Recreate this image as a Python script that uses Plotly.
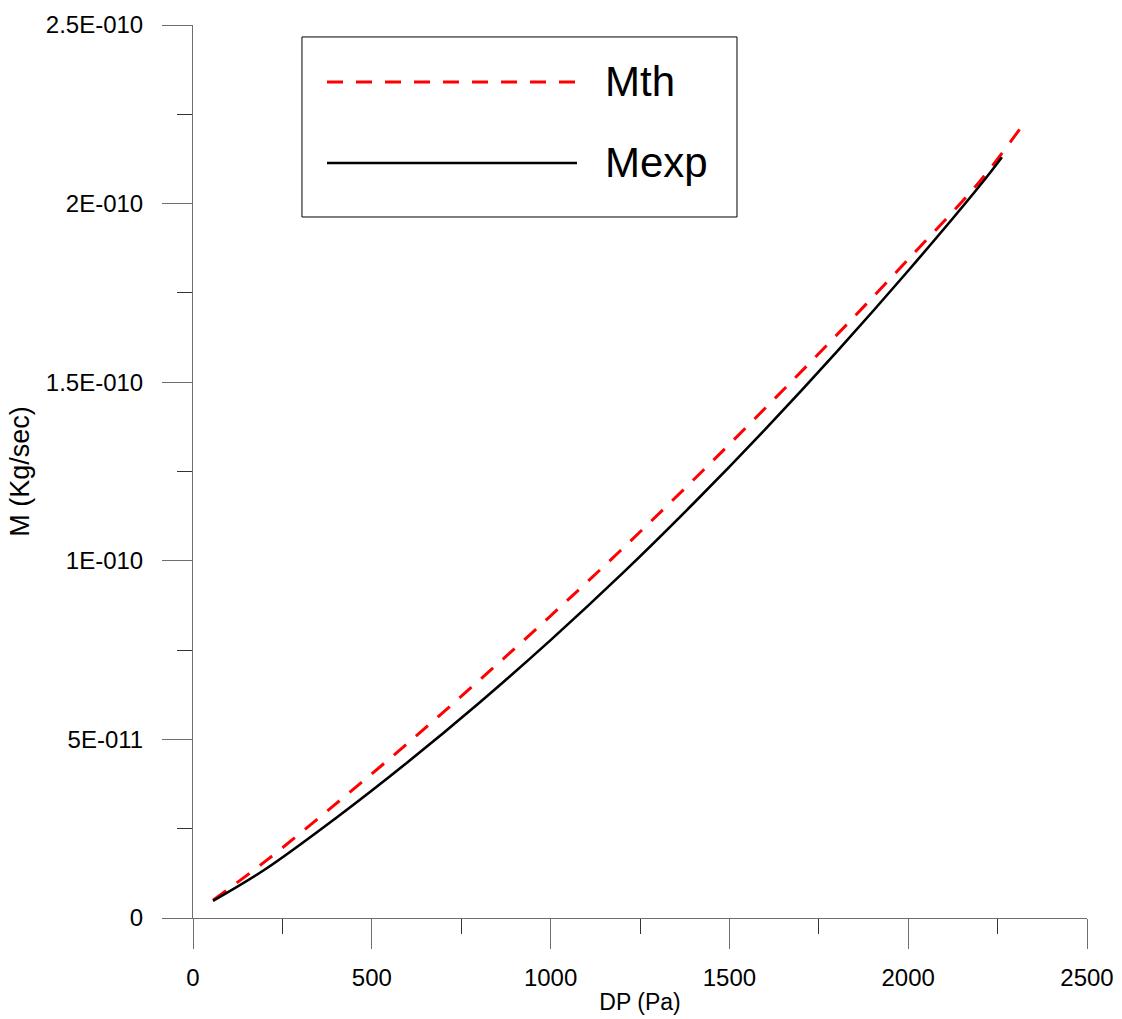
import plotly.graph_objects as go

# Pressure drop (Pa) and mass flow rate (kg/s)
dp_th = [56, 200, 400, 600, 800, 1000, 1200, 1400, 1600, 1800, 2000, 2200, 2313]
m_th = [5.0e-12, 1.57e-11, 3.20e-11, 4.89e-11, 6.65e-11, 8.46e-11, 1.033e-10,
        1.227e-10, 1.427e-10, 1.632e-10, 1.844e-10, 2.062e-10, 2.21e-10]

dp_exp = [56, 200, 400, 600, 800, 1000, 1200, 1400, 1600, 1800, 2000, 2200, 2262]
m_exp = [4.8e-12, 1.35e-11, 2.80e-11, 4.36e-11, 6.02e-11, 7.78e-11, 9.64e-11,
         1.161e-10, 1.368e-10, 1.585e-10, 1.812e-10, 2.050e-10, 2.13e-10]

series_names = ["Mth", "Mexp"]

x_ticks = [0, 500, 1000, 1500, 2000, 2500]
x_ticktext = ["0", "500", "1000", "1500", "2000", "2500"]
y_ticks = [0, 5e-11, 1e-10, 1.5e-10, 2e-10, 2.5e-10]
y_ticktext = ["0", "5E-011", "1E-010", "1.5E-010", "2E-010", "2.5E-010"]

FONT = "Arial, Liberation Sans, sans-serif"
AXIS_GREY = "#6e6e6e"

fig = go.Figure()
fig.add_trace(go.Scatter(
    x=dp_th, y=m_th, mode="lines", name=series_names[0], showlegend=False,
    line=dict(color="#ff0000", width=3, dash="16px,13px", shape="spline"),
))
fig.add_trace(go.Scatter(
    x=dp_exp, y=m_exp, mode="lines", name=series_names[1], showlegend=False,
    line=dict(color="#000000", width=2.6, shape="spline"),
))

axis_common = dict(
    showgrid=False, zeroline=False, showline=True, linecolor=AXIS_GREY, linewidth=1,
    ticks="outside", ticklen=30, tickwidth=1, tickcolor=AXIS_GREY,
    tickfont=dict(family=FONT, size=24, color="#000000"),
    mirror=False, automargin=False,
)

fig.update_xaxes(
    range=[0, 2500], tickvals=x_ticks, ticktext=x_ticktext,
    minor=dict(ticks="outside", ticklen=15, tickwidth=1, tickcolor="#333333", dtick=250, tick0=0),
    title=dict(text="DP (Pa)", font=dict(family=FONT, size=23, color="#000000"), standoff=4),
    ticklabelstandoff=8,
    **axis_common,
)
fig.update_yaxes(
    range=[0, 2.5e-10], tickvals=y_ticks, ticktext=y_ticktext,
    minor=dict(ticks="outside", ticklen=15, tickwidth=1, tickcolor="#333333", dtick=2.5e-11, tick0=0),
    title=dict(text="M (Kg/sec)", font=dict(family=FONT, size=27, color="#000000"), standoff=8),
    ticklabelstandoff=14,
    **axis_common,
)

# Legend box drawn as layout decorations
shapes = [
    dict(type="rect", xref="paper", yref="paper", x0=0.1219, x1=0.6085, y0=0.785, y1=0.9866,
         line=dict(color="#000000", width=1), fillcolor="rgba(0,0,0,0)"),
    dict(type="line", xref="paper", yref="paper", x0=0.1499, x1=0.4295, y0=0.9362, y1=0.9362,
         line=dict(color="#ff0000", width=3, dash="16px,13px")),
    dict(type="line", xref="paper", yref="paper", x0=0.1499, x1=0.4295, y0=0.8455, y1=0.8455,
         line=dict(color="#000000", width=2.6)),
]
annotations = [
    dict(xref="paper", yref="paper", x=0.4587, y=0.9362, text=series_names[0], showarrow=False,
         xanchor="left", yanchor="middle", font=dict(family=FONT, size=42, color="#000000")),
    dict(xref="paper", yref="paper", x=0.4587, y=0.8455, text=series_names[1], showarrow=False,
         xanchor="left", yanchor="middle", font=dict(family=FONT, size=42, color="#000000")),
]

fig.update_layout(
    width=1122, height=1019,
    margin=dict(l=193, r=35, t=25, b=101, pad=0),
    paper_bgcolor="#ffffff", plot_bgcolor="#ffffff",
    shapes=shapes, annotations=annotations,
    showlegend=False,
)

fig.write_html("out.html")
